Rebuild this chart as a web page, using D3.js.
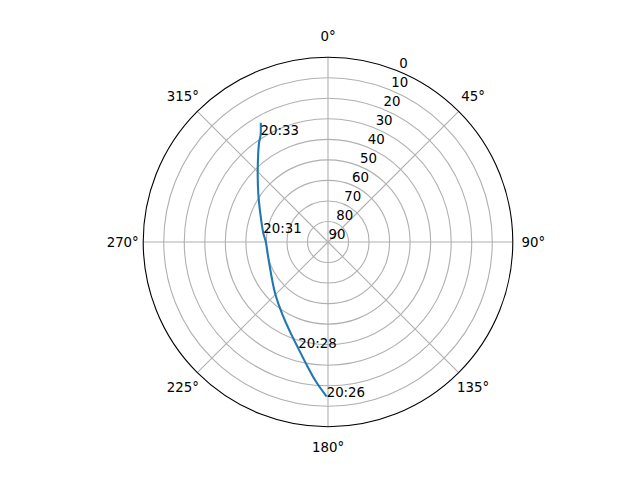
<!DOCTYPE html>
<html>
<head>
<meta charset="utf-8">
<script src="https://cdn.jsdelivr.net/npm/d3@7"></script>
<style>
  body { margin: 0; background: #fff; }
  text { font-family: "DejaVu Sans", sans-serif; font-size: 13.33px; fill: #000; }
</style>
</head>
<body>
<div id="chart"></div>
<script>
// Satellite pass (azimuth deg clockwise from north, elevation deg)
var azimuth   = [180.5, 185.4, 189.8, 195.6, 203.0, 210.9, 225.9, 254.7, 270.3, 277.7, 290.6, 304.9, 315.7, 325.0, 327.8, 330.6];
var elevation = [14.7,  22.5,  29.2,  36.2,  42.6,  47.6,  54.1,  59.9,  59.7,  58.2,  55.0,  48.6,  41.0,  31.4,  28.4,  23.3];
var timeLabel = ["20:26", "", "", "20:28", "", "", "", "", "", "20:31", "", "", "", "", "20:33", ""];

// Ticks
var angleTicks = [0, 45, 90, 135, 180, 225, 270, 315];
var radialTicks = [0, 10, 20, 30, 40, 50, 60, 70, 80, 90];

var svgWidth = 640;
var svgHeight = 480;
var cx = 328;
var cy = 242;
var radius = 184.8;

var svg = d3.select("#chart").append("svg")
            .attr("width", svgWidth)
            .attr("height", svgHeight);

var chartGroup = svg.append("g")
                    .attr("transform", `translate(${cx}, ${cy})`);

// elevation 90 at the centre, 0 at the rim
var rScale = d3.scaleLinear().domain([90, 0]).range([0, radius]);
var aScale = d3.scaleLinear().domain([0, 360]).range([0, 2 * Math.PI]);

function px(az, el) {
  var a = aScale(az), r = rScale(el);
  return [r * Math.sin(a), -r * Math.cos(a)];
}

// Circular grid
chartGroup.selectAll(".rgrid")
          .data(radialTicks.filter(d => d > 0 && d < 90))
          .enter()
          .append("circle")
          .attr("r", d => rScale(d))
          .attr("fill", "none")
          .attr("stroke", "#b0b0b0")
          .attr("stroke-width", 1.1);

// Spokes
chartGroup.selectAll(".agrid")
          .data(angleTicks)
          .enter()
          .append("line")
          .attr("x1", 0).attr("y1", 0)
          .attr("x2", d => px(d, 0)[0])
          .attr("y2", d => px(d, 0)[1])
          .attr("stroke", "#b0b0b0")
          .attr("stroke-width", 1.1);

// Outer spine
chartGroup.append("circle")
          .attr("r", rScale(0))
          .attr("fill", "none")
          .attr("stroke", "#000")
          .attr("stroke-width", 1.1);

// Angle labels
chartGroup.selectAll(".alabel")
          .data(angleTicks)
          .enter()
          .append("text")
          .attr("x", d => (radius + 20.5) * Math.sin(aScale(d)))
          .attr("y", d => -(radius + 20.5) * Math.cos(aScale(d)))
          .attr("text-anchor", "middle")
          .attr("dominant-baseline", "central")
          .text(d => d + "°");

// Radial labels along 22.5°
chartGroup.selectAll(".rlabel")
          .data(radialTicks)
          .enter()
          .append("text")
          .attr("x", d => px(22.5, d)[0] + 0.5)
          .attr("y", d => px(22.5, d)[1] - 2.8)
          .attr("text-anchor", "start")
          .text(d => d);

// Pass track
var pass = azimuth.map((a, i) => ({az: a, el: elevation[i], label: timeLabel[i]}));

var line = d3.lineRadial()
             .angle(d => aScale(d.az))
             .radius(d => rScale(d.el))
             .curve(d3.curveCatmullRom);

chartGroup.append("path")
          .datum(pass)
          .attr("d", line)
          .attr("fill", "none")
          .attr("stroke", "#1f77b4")
          .attr("stroke-width", 2.08);

// Time annotations
chartGroup.selectAll(".tlabel")
          .data(pass.filter(d => d.label !== ""))
          .enter()
          .append("text")
          .attr("x", d => px(d.az, d.el)[0])
          .attr("y", d => px(d.az, d.el)[1])
          .attr("text-anchor", "start")
          .text(d => d.label);
</script>
</body>
</html>
